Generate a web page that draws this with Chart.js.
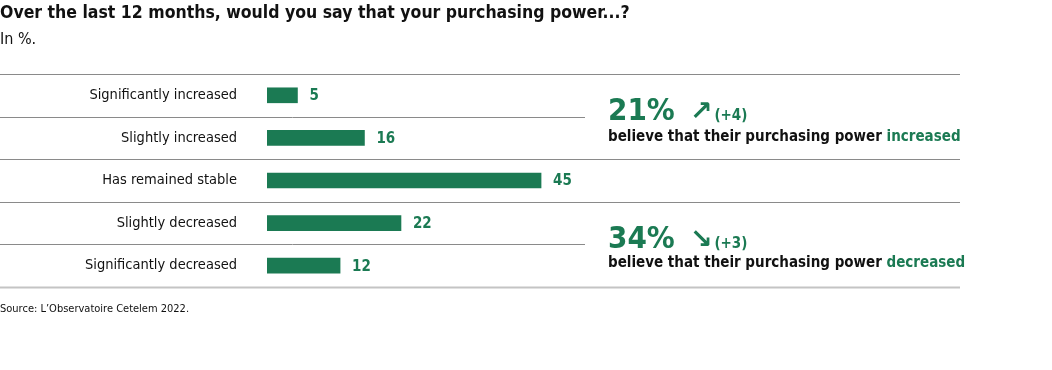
<!DOCTYPE html>
<html>
<head>
<meta charset="utf-8">
<script src="https://cdn.jsdelivr.net/npm/chart.js@4/dist/chart.umd.min.js"></script>
<style>
  html, body { margin: 0; padding: 0; background: #fff; }
  body { width: 1052px; height: 370px; position: relative; overflow: hidden;
         font-family: "Liberation Sans Narrow", "DejaVu Sans Condensed", "Roboto", sans-serif; color: #111; }
  #wrap { position: absolute; left: 0; top: 0; width: 1052px; height: 370px; }
  .title { position: absolute; left: 0; top: 2px; font-size: 17.5px; font-weight: bold; white-space: nowrap; }
  .sub { position: absolute; left: 0; top: 29px; font-size: 16px; }
  .source { position: absolute; left: 0; top: 302px; font-size: 11px; }
  .head { position: absolute; left: 608px; white-space: nowrap; line-height: 1; }
  .big { font-size: 31px; font-weight: bold; color: #1b7a53; }
  .arrow { font-family: "DejaVu Sans", sans-serif; font-size: 27px; font-weight: bold; color: #1b7a53; margin-left: 15px; margin-right: 2px; }
  .delta { font-size: 15px; font-weight: bold; color: #1b7a53; }
  .txt { position: absolute; left: 608px; white-space: nowrap; line-height: 1; font-size: 15px; font-weight: bold; }
  .txt span { color: #1b7a53; }
</style>
</head>
<body>
<div id="wrap"><canvas id="chart" width="1052" height="370"></canvas></div>
<div class="title">Over the last 12 months, would you say that your purchasing power...?</div>
<div class="sub">In %.</div>
<div class="head" style="top:94px"><span class="big">21%</span><span class="arrow">&#8599;</span><span class="delta">(+4)</span></div>
<div class="txt" style="top:129px">believe that their purchasing power <span>increased</span></div>
<div class="head" style="top:222px"><span class="big">34%</span><span class="arrow">&#8600;</span><span class="delta">(+3)</span></div>
<div class="txt" style="top:255px">believe that their purchasing power <span>decreased</span></div>
<div class="source">Source: L’Observatoire Cetelem 2022.</div>
<script>
const categories = [
  "Significantly increased",
  "Slightly increased",
  "Has remained stable",
  "Slightly decreased",
  "Significantly decreased",
];
const values = [5, 16, 45, 22, 12];

const GREEN = "#1b7a53";
const FONT = '"Liberation Sans Narrow", "DejaVu Sans Condensed", "Roboto", sans-serif';

// separators between rows: after row index, right end x
const separators = [
  { at: -1, right: 960, color: "#8a8a8a", width: 1 },
  { at: 0, right: 585, color: "#8a8a8a", width: 1 },
  { at: 1, right: 960, color: "#8a8a8a", width: 1 },
  { at: 2, right: 960, color: "#8a8a8a", width: 1 },
  { at: 3, right: 585, color: "#8a8a8a", width: 1 },
  { at: 4, right: 960, color: "#c4c4c4", width: 2 },
];

const decorPlugin = {
  id: "decor",
  beforeDraw(chart) {
    const ctx = chart.ctx;
    const y = chart.scales.y;
    const step = y.getPixelForValue(1) - y.getPixelForValue(0);
    ctx.save();
    separators.forEach((s) => {
      const py = Math.round(y.getPixelForValue(s.at) + step / 2) + 0.5;
      ctx.strokeStyle = s.color;
      ctx.lineWidth = s.width;
      ctx.beginPath();
      ctx.moveTo(0, py);
      ctx.lineTo(s.right, py);
      ctx.stroke();
    });
    ctx.restore();
  },
  afterDatasetsDraw(chart) {
    const ctx = chart.ctx;
    const meta = chart.getDatasetMeta(0);
    ctx.save();
    ctx.fillStyle = GREEN;
    ctx.font = "bold 15px " + FONT;
    ctx.textBaseline = "middle";
    meta.data.forEach((bar, i) => {
      ctx.fillText(String(values[i]), bar.x + 12, bar.y + 1);
    });
    ctx.restore();
  },
};

new Chart(document.getElementById("chart"), {
  type: "bar",
  data: {
    labels: categories,
    datasets: [
      {
        data: values,
        backgroundColor: GREEN,
        borderWidth: 0,
        barThickness: 15,
      },
    ],
  },
  options: {
    indexAxis: "y",
    responsive: false,
    animation: false,
    layout: { padding: { left: 0, right: 176, top: 74, bottom: 83 } },
    plugins: { legend: { display: false }, tooltip: { enabled: false } },
    scales: {
      x: { display: false, min: 0, max: 100 },
      y: {
        grid: { display: false, drawTicks: false },
        border: { display: false },
        ticks: { color: "#111", padding: 30, font: { family: FONT, size: 14.5 } },
        afterFit(scale) {
          scale.width = 267;
        },
      },
    },
  },
  plugins: [decorPlugin],
});
</script>
</body>
</html>
